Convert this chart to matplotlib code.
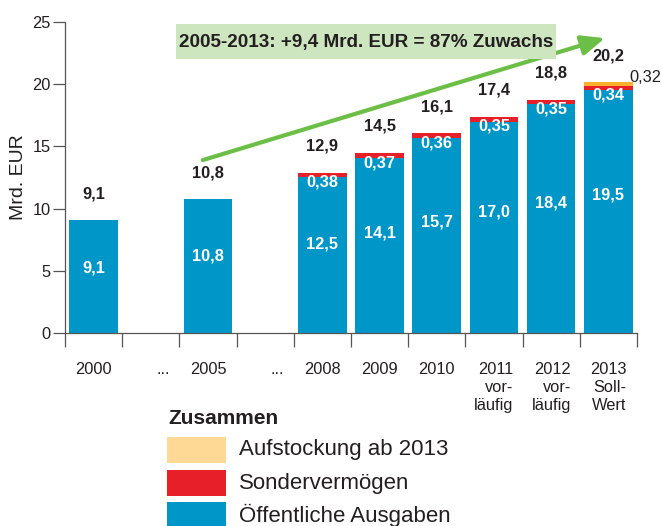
#!/usr/bin/env python3

import numpy as np
import matplotlib
matplotlib.use( 'Agg' )
import matplotlib.pyplot as plt
import matplotlib.transforms as mtransforms
from matplotlib.patches import Rectangle

plt.rcParams['font.family'] = [ 'Liberation Sans', 'DejaVu Sans' ]

# x slots (the "..." slots stay empty)
slotLabels = [ '2000', '...', '2005', '...', '2008', '2009', '2010',
               '2011\nvor-\nläufig', '2012\nvor-\nläufig', '2013\nSoll-\nWert' ]
barSlots = [ 0, 2, 4, 5, 6, 7, 8, 9 ]

# Mrd. EUR
oeffentlich = [ 9.1, 10.8, 12.5, 14.1, 15.7, 17.0, 18.4, 19.5 ]
sonder      = [ 0.0, 0.0, 0.38, 0.37, 0.36, 0.35, 0.35, 0.34 ]
aufstockung = [ 0.0, 0.0, 0.0, 0.0, 0.0, 0.0, 0.0, 0.32 ]
totals      = [ 9.1, 10.8, 12.9, 14.5, 16.1, 17.4, 18.8, 20.2 ]

seriesNames = [ 'Aufstockung ab 2013', 'Sondervermögen', 'Öffentliche Ausgaben' ]
legendColors = [ '#fdd995', '#e61f28', '#0096c8' ]
barColors = { 'oeff' : '#0096c8', 'sonder' : '#e61f28', 'auf' : '#f8b12c' }

headline = '2005-2013: +9,4 Mrd. EUR = 87% Zuwachs'
arrowStart = ( 1.91, 13.9 )
arrowEnd   = ( 8.94, 23.7 )

textColor = '#231f20'
axisColor = '#555555'

def fmt( v, digits ):
    return f'{v:.{digits}f}'.replace( '.', ',' )

fig = plt.figure( figsize = ( 6.62, 5.26 ), dpi = 100 )
ax = fig.add_axes( [ 0.0982, 0.3669, 0.864, 0.5913 ] )

x = np.array( barSlots )
oeff = np.array( oeffentlich )
sond = np.array( sonder )
auf  = np.array( aufstockung )
width = 0.85

ax.bar( x, oeff, width, color = barColors['oeff'], zorder = 2 )
ax.bar( x, sond, width, bottom = oeff, color = barColors['sonder'], zorder = 2 )
ax.bar( x, auf, width, bottom = oeff + sond, color = barColors['auf'], zorder = 2 )

for i in range( len( barSlots ) ):
    # value inside the blue part
    ax.text( x[i], oeff[i] * 0.57, fmt( oeff[i], 1 ), ha = 'center', va = 'center',
             color = 'white', fontsize = 11.8, fontweight = 'bold', zorder = 3 )
    if sond[i] > 0:
        ax.text( x[i], oeff[i] - 0.4, fmt( sond[i], 2 ), ha = 'center', va = 'center',
                 color = 'white', fontsize = 11.8, fontweight = 'bold', zorder = 3 )
    if auf[i] > 0:
        ax.text( x[i] + 0.36, totals[i] + 0.35, fmt( auf[i], 2 ), ha = 'left', va = 'center',
                 color = textColor, fontsize = 11.8, zorder = 3 )
    ax.text( x[i], totals[i] + 2.1, fmt( totals[i], 1 ), ha = 'center', va = 'center',
             color = textColor, fontsize = 11.8, fontweight = 'bold', zorder = 3 )

# growth arrow + headline box (box sits on top of the arrow)
ax.annotate( '', xy = arrowEnd, xytext = arrowStart, zorder = 4,
             arrowprops = dict( arrowstyle = '-|>,head_length=1.4,head_width=0.6',
                                color = '#6cbf46', lw = 3, mutation_scale = 10,
                                shrinkA = 0, shrinkB = 0 ) )
ax.add_patch( Rectangle( ( 1.44, 22.0 ), 6.64, 2.8, facecolor = '#cde6bf',
                         edgecolor = 'none', zorder = 5, clip_on = False ) )
ax.text( 4.76, 23.35, headline, ha = 'center', va = 'center', fontsize = 13.6,
         fontweight = 'bold', color = textColor, zorder = 6 )

ax.set_xlim( -0.5, len( slotLabels ) - 0.5 )
ax.set_ylim( 0, 25 )

for side in [ 'top', 'right' ]:
    ax.spines[side].set_visible( False )
for side in [ 'left', 'bottom' ]:
    ax.spines[side].set_color( axisColor )
    ax.spines[side].set_linewidth( 0.9 )

ax.set_yticks( np.arange( 0, 26, 5 ) )
ax.tick_params( axis = 'y', direction = 'out', length = 8.6, width = 0.9, color = axisColor,
                pad = 1.5, labelsize = 11.8, labelcolor = textColor )

ax.set_xticks( np.arange( len( slotLabels ) + 1 ) - 0.5 )
ax.set_xticklabels( [] )
ax.tick_params( axis = 'x', which = 'major', direction = 'out', length = 10, width = 0.9,
                color = axisColor )
ax.set_xticks( np.arange( len( slotLabels ) ), minor = True )
ax.set_xticklabels( slotLabels, minor = True )
ax.tick_params( axis = 'x', which = 'minor', length = 0, pad = 21, labelsize = 11.8,
                labelcolor = textColor )
dotShift = mtransforms.ScaledTranslation( 0.12, 0, fig.dpi_scale_trans )
for label in ax.get_xticklabels( minor = True ):
    label.set_multialignment( 'right' )
    label.set_linespacing( 1.25 )
    if label.get_text() == '...':
        label.set_transform( label.get_transform() + dotShift )

ax.set_ylabel( 'Mrd. EUR', fontsize = 14, color = textColor, labelpad = 4 )

# legend drawn by hand below the chart
fig.text( 0.2538, 0.2053, 'Zusammen', ha = 'left', va = 'center', fontsize = 15,
          fontweight = 'bold', color = textColor )
rowY = [ 0.1445, 0.0817, 0.0209 ]
for name, color, y in zip( seriesNames, legendColors, rowY ):
    fig.add_artist( Rectangle( ( 0.2523, y - 0.0247 ), 0.0891, 0.0494,
                               transform = fig.transFigure, facecolor = color,
                               edgecolor = 'none' ) )
    fig.text( 0.361, y, name, ha = 'left', va = 'center', fontsize = 16, color = textColor )

fig.savefig( 'out.png', dpi = 100 )
